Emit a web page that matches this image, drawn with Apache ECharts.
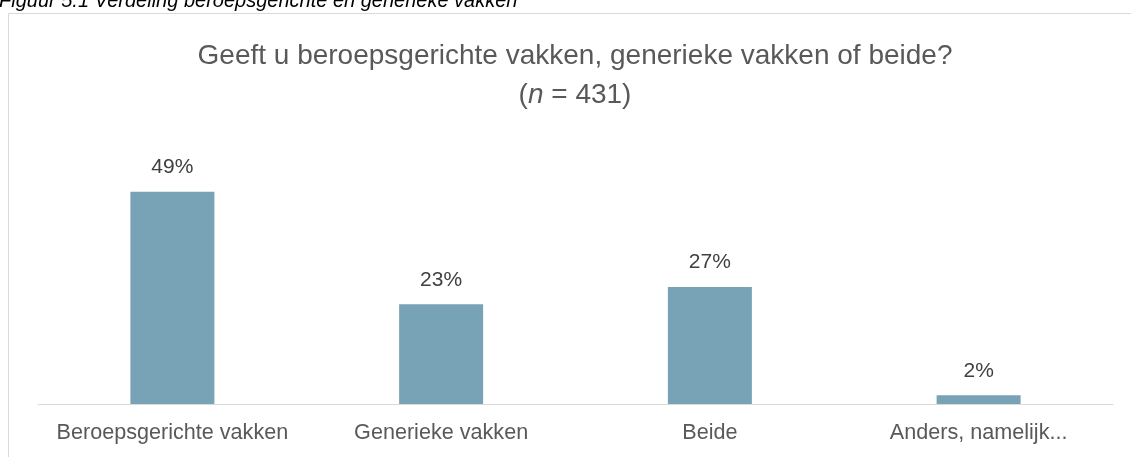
<!DOCTYPE html>
<html>
<head>
<meta charset="utf-8">
<script src="https://cdn.jsdelivr.net/npm/echarts@6/dist/echarts.min.js"></script>
<style>
	html, body { margin: 0; padding: 0; background: #fff; }
	#chart { width: 1131px; height: 457px; }
</style>
</head>
<body>
<div id="chart"></div>
<script>
var categories = ['Beroepsgerichte vakken', 'Generieke vakken', 'Beide', 'Anders, namelijk...'];
var percentages = [49, 23, 27, 2];
var yMax = 60;

var font = '"Liberation Sans", Arial, sans-serif';
var chart = echarts.init(document.getElementById('chart'));
chart.setOption({
	animation: false,
	graphic: [{
		type: 'rect',
		shape: { x: 8.5, y: 13.5, width: 1300, height: 600 },
		style: { fill: 'none', stroke: '#d9d9d9', lineWidth: 1 },
		silent: true
	}, {
		type: 'text',
		left: -1,
		top: -9,
		style: {
			text: 'Figuur 5.1 Verdeling beroepsgerichte en generieke vakken',
			font: 'italic 20px ' + font,
			fill: '#000'
		}
	}, {
		// titel, gecentreerd op het kader
		type: 'text',
		x: 575,
		y: 37,
		style: {
			text: 'Geeft u beroepsgerichte vakken, generieke vakken of beide?\n{p|(}{i|n}{p| = 431)}',
			align: 'center',
			fontFamily: font,
			fontSize: 28,
			fill: '#595959',
			lineHeight: 39,
			rich: {
				p: { fontFamily: font, fontSize: 28, fill: '#595959', lineHeight: 39 },
				i: { fontFamily: font, fontSize: 28, fill: '#595959', fontStyle: 'italic', lineHeight: 39 }
			}
		}
	}],
	grid: { left: 38, right: 18, top: 144, bottom: 53 },
	xAxis: {
		type: 'category',
		data: categories,
		axisLine: { lineStyle: { color: '#d9d9d9', width: 1 } },
		axisTick: { show: false },
		axisLabel: { color: '#595959', fontFamily: font, fontSize: 21.6, margin: 18, interval: 0 }
	},
	yAxis: {
		type: 'value',
		min: 0,
		max: yMax,
		show: false,
		splitLine: { show: false }
	},
	series: [{
		type: 'bar',
		data: percentages,
		barWidth: 84,
		itemStyle: { color: '#78a2b6' },
		label: {
			show: true,
			position: 'top',
			distance: 14,
			formatter: '{c}%',
			color: '#404040',
			fontFamily: font,
			fontSize: 21
		}
	}]
});
</script>
</body>
</html>
